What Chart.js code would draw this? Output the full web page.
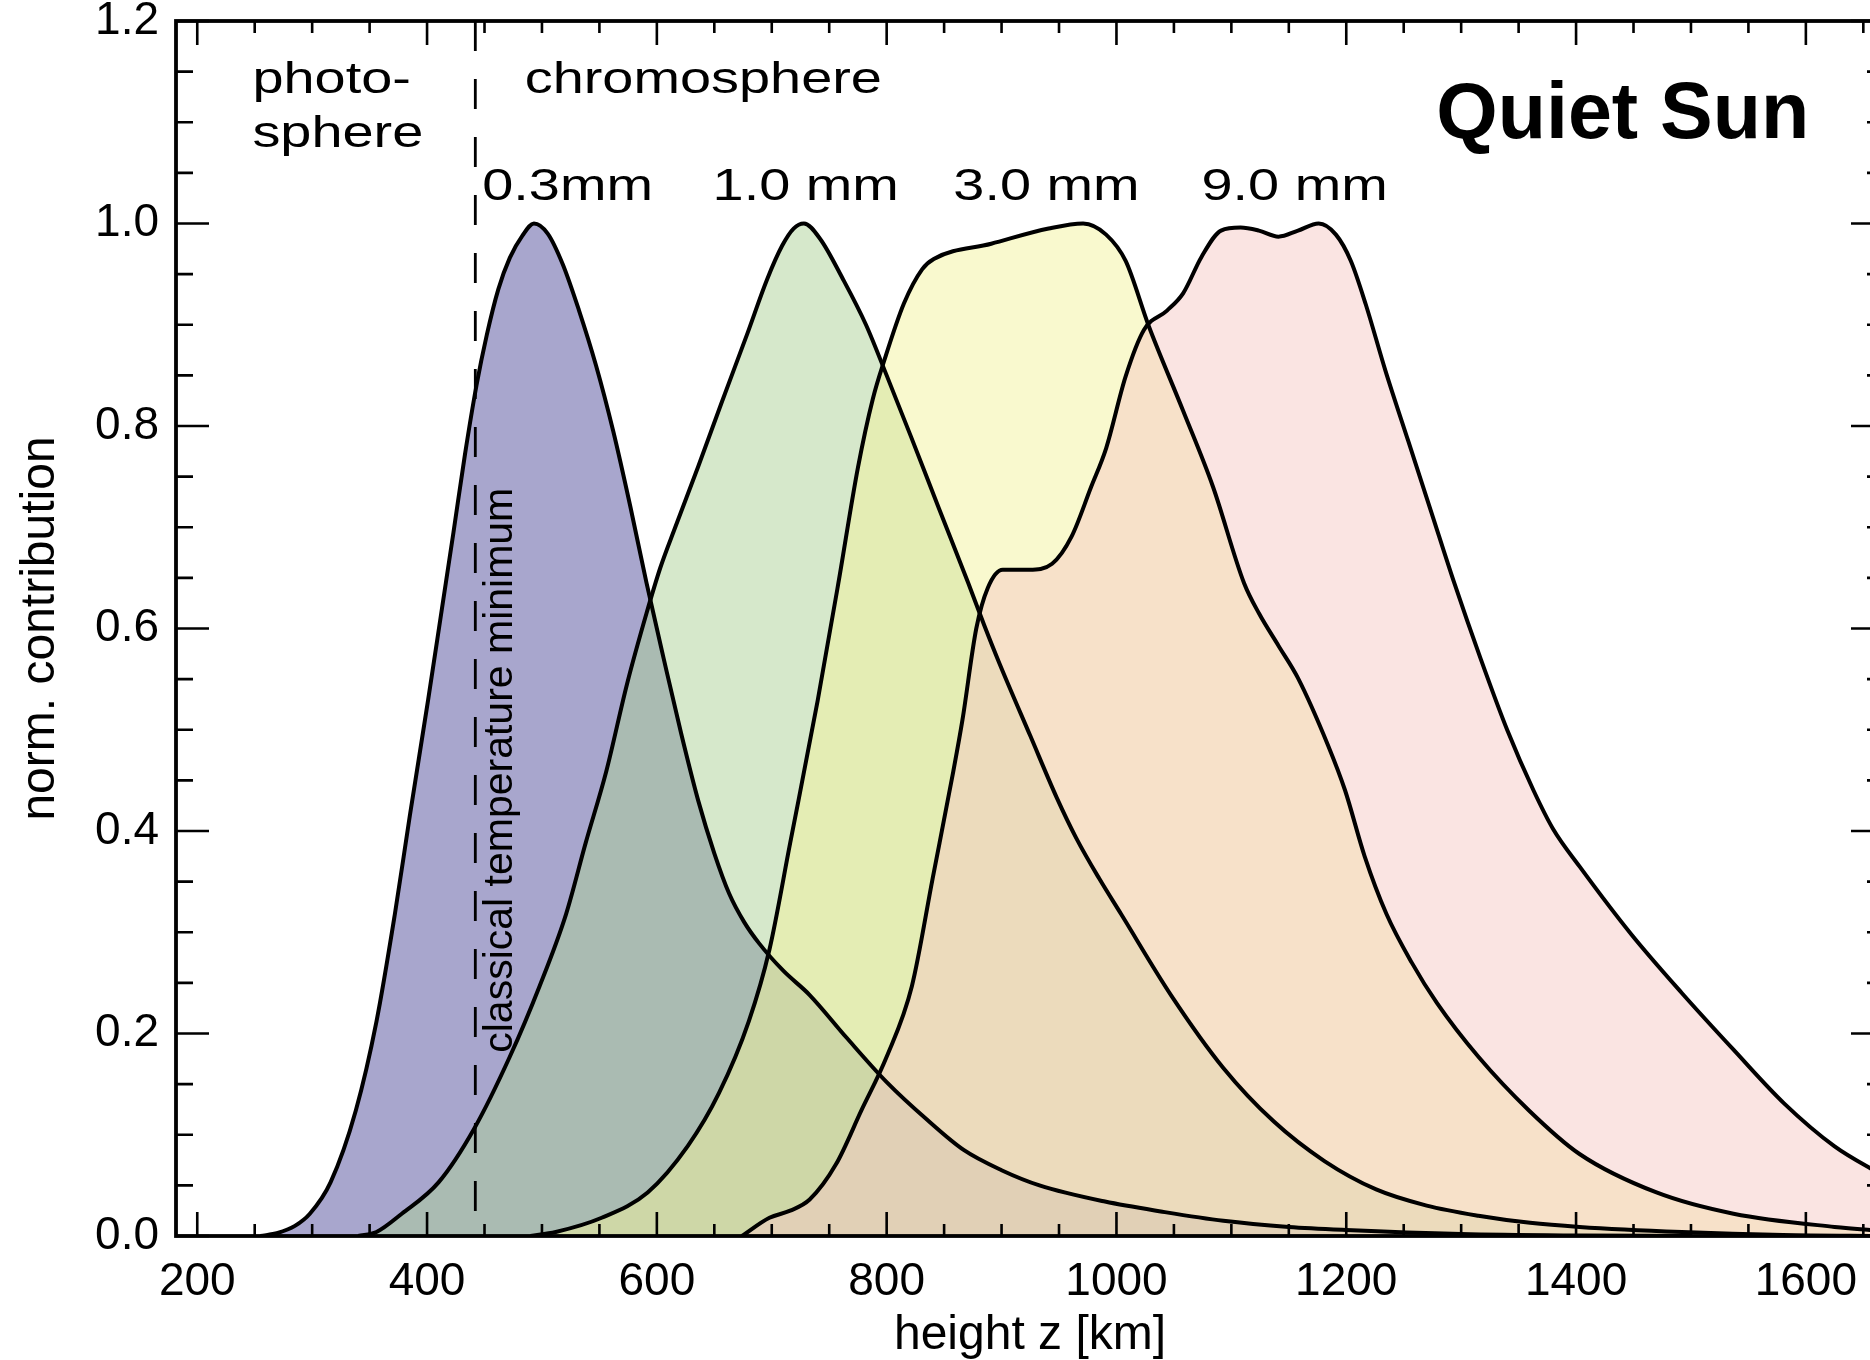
<!DOCTYPE html>
<html>
<head>
<meta charset="utf-8">
<script src="https://cdn.jsdelivr.net/npm/chart.js@4.4.1/dist/chart.umd.min.js"></script>
<style>
  html, body { margin: 0; padding: 0; background: #fff; overflow: hidden; }
  canvas { display: block; }
</style>
</head>
<body>
<canvas id="myChart" width="1890" height="1360" style="width:1890px;height:1360px"></canvas>
<script>
// height z [km] and normalized contribution function per wavelength

// 0.3 mm
const z03 = [255, 270, 285, 298, 316, 338, 356, 372, 385, 401, 413, 423, 433, 443, 452, 462, 472, 483, 493, 505, 518, 532, 547, 562, 577, 591, 606, 621, 636, 650, 663, 676, 689, 710, 733, 765, 800, 835, 867, 900, 933, 990, 1040, 1093, 1150, 1200, 1300, 1400, 1500];
const c03 = [0, 0.003, 0.01, 0.022, 0.053, 0.124, 0.212, 0.318, 0.415, 0.53, 0.62, 0.695, 0.772, 0.84, 0.89, 0.935, 0.966, 0.988, 1.0, 0.99, 0.96, 0.915, 0.86, 0.795, 0.72, 0.645, 0.57, 0.497, 0.43, 0.378, 0.338, 0.31, 0.289, 0.262, 0.238, 0.196, 0.152, 0.115, 0.085, 0.065, 0.05, 0.034, 0.024, 0.015, 0.009, 0.006, 0.002, 0.0005, 0];

// 1.0 mm
const z10 = [340, 356, 378, 410, 441, 472, 498, 521, 538, 556, 574, 591, 603, 616, 636, 656, 679, 696, 709, 719, 728, 742, 762, 782, 800, 821, 845, 871, 885, 898, 925, 948, 965, 985, 1004, 1048, 1093, 1137, 1181, 1226, 1270, 1315, 1360, 1403, 1492, 1580, 1668];
const c10 = [0, 0.004, 0.022, 0.053, 0.106, 0.177, 0.247, 0.318, 0.388, 0.459, 0.545, 0.615, 0.66, 0.70, 0.76, 0.822, 0.892, 0.945, 0.978, 0.995, 1.0, 0.985, 0.945, 0.9, 0.85, 0.79, 0.72, 0.645, 0.603, 0.566, 0.494, 0.433, 0.393, 0.353, 0.318, 0.237, 0.166, 0.113, 0.074, 0.046, 0.03, 0.02, 0.013, 0.009, 0.004, 0.001, 0];

// 3.0 mm
const z30 = [490, 512, 552, 592, 627, 654, 680, 698, 716, 740, 758, 775, 788, 798, 815, 831, 841, 891, 941, 971, 991, 1008, 1028, 1058, 1084, 1111, 1124, 1141, 1158, 1184, 1199, 1216, 1235, 1257, 1279, 1315, 1359, 1403, 1470, 1537, 1625, 1668];
const c30 = [0, 0.004, 0.018, 0.043, 0.089, 0.141, 0.212, 0.283, 0.388, 0.529, 0.645, 0.759, 0.827, 0.865, 0.921, 0.955, 0.965, 0.98, 0.995, 1.0, 0.989, 0.963, 0.899, 0.815, 0.74, 0.645, 0.615, 0.583, 0.551, 0.485, 0.44, 0.375, 0.318, 0.27, 0.23, 0.177, 0.124, 0.081, 0.043, 0.022, 0.009, 0.005];

// 9.0 mm
const z90 = [674, 698, 716, 733, 756, 778, 800, 822, 840, 858, 866, 878, 888, 901, 924, 944, 961, 978, 991, 1008, 1024, 1044, 1058, 1074, 1091, 1108, 1124, 1141, 1158, 1176, 1191, 1204, 1217, 1234, 1254, 1274, 1294, 1317, 1340, 1363, 1380, 1403, 1448, 1492, 1537, 1581, 1625, 1656, 1668];
const c90 = [0, 0.018, 0.025, 0.036, 0.071, 0.124, 0.177, 0.247, 0.353, 0.459, 0.51, 0.6, 0.64, 0.658, 0.658, 0.664, 0.691, 0.74, 0.778, 0.849, 0.895, 0.914, 0.931, 0.967, 0.993, 0.996, 0.993, 0.987, 0.993, 1.0, 0.989, 0.963, 0.92, 0.855, 0.785, 0.715, 0.645, 0.57, 0.5, 0.44, 0.402, 0.365, 0.298, 0.24, 0.184, 0.131, 0.0885, 0.067, 0.06];

const bands = ["0.3mm", "1.0 mm", "3.0 mm", "9.0 mm"];
const xTicks = [200, 400, 600, 800, 1000, 1200, 1400, 1600];
const yTicks = [0, 0.2, 0.4, 0.6, 0.8, 1.0, 1.2];
const tempMin = 442; // height of the classical temperature minimum

const heights = [z03, z10, z30, z90];
const contrib = [c03, c10, c30, c90];
const fillColors = [
  "rgba(82, 78, 155, 0.5)",
  "rgba(173, 209, 151, 0.5)",
  "rgba(243, 243, 157, 0.5)",
  "rgba(245, 201, 197, 0.5)",
];

// where the text annotations sit, in data units (km, contribution)
const bandLabelZ = [448, 648.5, 858, 1074];
const bandLabelV = 1.023;
const regionNotes = [
  { text: "photo-", z: 248, v: 1.129 },
  { text: "sphere", z: 248, v: 1.076 },
  { text: "chromosphere", z: 485, v: 1.129 },
];

const FONT = '"Liberation Sans", Arial, Helvetica, sans-serif';
Chart.defaults.font.family = FONT;
Chart.defaults.color = "#000";

function wideText(ctx, text, px, py, stretch) {
  ctx.save();
  ctx.translate(px, py);
  ctx.scale(stretch, 1);
  ctx.fillText(text, 0, 0);
  ctx.restore();
}

/*
 * Box, inward ticks on all four sides, the dashed temperature
 * minimum marker and the text annotations
 */
const frameAndNotes = {
  id: "frameAndNotes",
  afterDatasetsDraw(chart) {
    const { ctx, chartArea: a, scales: { x, y } } = chart;
    ctx.save();
    ctx.strokeStyle = "#000";
    ctx.fillStyle = "#000";

    const xm = x.getPixelForValue(tempMin);
    ctx.lineWidth = 2.8;
    ctx.setLineDash([30, 28]);
    ctx.beginPath();
    ctx.moveTo(xm, a.top);
    ctx.lineTo(xm, a.bottom);
    ctx.stroke();
    ctx.setLineDash([]);

    ctx.lineWidth = 2.6;
    ctx.beginPath();
    for (let v = 200; v <= x.max; v += 50) {
      const px = x.getPixelForValue(v);
      const len = v % 200 === 0 ? 24 : 12;
      ctx.moveTo(px, a.bottom); ctx.lineTo(px, a.bottom - len);
      ctx.moveTo(px, a.top); ctx.lineTo(px, a.top + len);
    }
    for (let i = 0; i <= 24; i++) {
      const py = y.getPixelForValue(i * 0.05);
      const len = i % 4 === 0 ? 33 : 17;
      ctx.moveTo(a.left, py); ctx.lineTo(a.left + len, py);
      ctx.moveTo(a.right, py); ctx.lineTo(a.right - len, py);
    }
    ctx.stroke();

    ctx.lineWidth = 3.8;
    ctx.strokeRect(a.left, a.top, a.right - a.left, a.bottom - a.top);

    ctx.textAlign = "left";
    ctx.textBaseline = "alphabetic";
    ctx.font = "44px " + FONT;
    regionNotes.forEach(n => {
      wideText(ctx, n.text, x.getPixelForValue(n.z), y.getPixelForValue(n.v), 1.27);
    });
    bands.forEach((b, i) => {
      wideText(ctx, b, x.getPixelForValue(bandLabelZ[i]), y.getPixelForValue(bandLabelV), 1.27);
    });

    ctx.save();
    ctx.font = "41px " + FONT;
    ctx.textAlign = "center";
    ctx.translate(x.getPixelForValue(474), y.getPixelForValue(0.46));
    ctx.rotate(-Math.PI / 2);
    ctx.fillText("classical temperature minimum", 0, 0);
    ctx.restore();

    ctx.font = "bold 79px " + FONT;
    ctx.textAlign = "right";
    ctx.fillText("Quiet Sun", x.getPixelForValue(1603), y.getPixelForValue(1.0844));

    ctx.restore();
  },
};

const datasets = bands.map((b, i) => ({
  label: b,
  data: heights[i].map((z, k) => ({ x: z, y: contrib[i][k] })),
  order: 4 - i, // longer wavelengths painted over shorter ones
  fill: "origin",
  backgroundColor: fillColors[i],
  borderColor: "#000",
  borderWidth: 4,
  borderJoinStyle: "round",
  pointRadius: 0,
  cubicInterpolationMode: "monotone",
}));

new Chart(document.getElementById("myChart"), {
  type: "line",
  data: { datasets },
  options: {
    responsive: false,
    animation: false,
    events: [],
    layout: { padding: { top: 21, right: 6, left: 0, bottom: 0 } },
    plugins: {
      legend: { display: false },
      tooltip: { enabled: false },
      filler: { drawTime: "beforeDatasetsDraw" },
    },
    scales: {
      x: {
        type: "linear",
        min: 181.5,
        max: 1668,
        grid: { display: false, drawTicks: false },
        border: { display: false },
        afterBuildTicks: ax => { ax.ticks = xTicks.map(v => ({ value: v })); },
        afterFit: ax => { ax.height = 124; ax.paddingLeft = 0; ax.paddingRight = 0; },
        ticks: {
          autoSkip: false,
          maxRotation: 0,
          padding: 19,
          color: "#000",
          font: { size: 46 },
          callback: v => String(v),
        },
        title: {
          display: true,
          text: "height z [km]",
          color: "#000",
          font: { size: 48 },
          padding: { top: 0, bottom: -5 },
        },
      },
      y: {
        min: 0,
        max: 1.2,
        grid: { display: false, drawTicks: false },
        border: { display: false },
        afterBuildTicks: ax => { ax.ticks = yTicks.map(v => ({ value: v })); },
        afterFit: ax => { ax.width = 176; ax.paddingTop = 0; ax.paddingBottom = 0; },
        ticks: {
          padding: 17,
          color: "#000",
          font: { size: 46 },
          callback: v => v.toFixed(1),
        },
        title: {
          display: true,
          text: "norm. contribution",
          color: "#000",
          font: { size: 48 },
          padding: { top: 12, bottom: 0 },
        },
      },
    },
  },
  plugins: [frameAndNotes],
});
</script>
</body>
</html>
